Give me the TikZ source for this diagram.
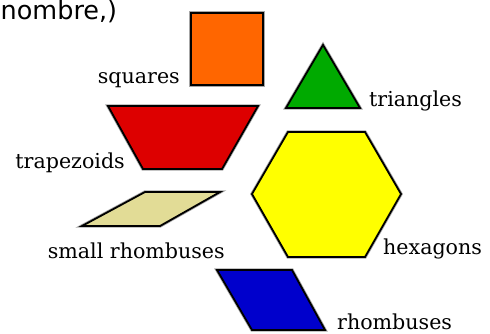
\documentclass[tikz,border=0pt]{standalone}
\usepackage{fontspec}
\setmainfont{DejaVu Serif}
\newfontfamily\handfont{DejaVu Sans}
\usetikzlibrary{positioning}

\definecolor{sqorange}{RGB}{255,102,0}
\definecolor{trigreen}{RGB}{0,170,0}
\definecolor{trapred}{RGB}{221,0,0}
\definecolor{hexyellow}{RGB}{255,255,0}
\definecolor{rhomblue}{RGB}{0,0,204}
\definecolor{smallkhaki}{RGB}{226,220,150}

\begin{document}
\begin{tikzpicture}[
    x=1pt, y=-1pt,
    piece/.style={draw=black, line width=1.8pt, line join=miter,
        preaction={draw=black!35, line width=3.4pt}},
    label/.style={font=\fontsize{20.6}{22}\selectfont, inner sep=0pt}
]
\useasboundingbox (0,0) rectangle (490,333);

% heading
\node[font=\handfont\fontsize{25.5}{28}\selectfont, anchor=base west, inner sep=0pt] (head) at (0.5,19) {nombre,)};

% pattern blocks
\filldraw[piece, fill=sqorange] (191,13) rectangle (263,85);
\filldraw[piece, fill=trigreen] (323,45) -- (360,108) -- (286,108) -- cycle;
\filldraw[piece, fill=trapred] (108,106) -- (258,106) -- (222,169) -- (143,169) -- cycle;
\filldraw[piece, fill=hexyellow] (288,132) -- (365,132) -- (401,194) -- (365,257) -- (288,257) -- (252,194) -- cycle;
\filldraw[piece, fill=smallkhaki] (145,192) -- (220,192) -- (160,226) -- (82,226) -- cycle;
\filldraw[piece, fill=rhomblue] (217,270) -- (292,270) -- (325,330) -- (252,330) -- cycle;

% names of the blocks
\node[label, anchor=base east] (squares) at (180,83) {squares};
\node[label, anchor=base west] (triangles) at (369,106) {triangles};
\node[label, anchor=base east] (trapezoids) at (125,168) {trapezoids};
\node[label, anchor=base east] (small) at (225,258) {small rhombuses};
\node[label, anchor=base west] (hexagons) at (383,254) {hexagons};
\node[label, anchor=base west] (rhombuses) at (337,329) {rhombuses};
\end{tikzpicture}
\end{document}
